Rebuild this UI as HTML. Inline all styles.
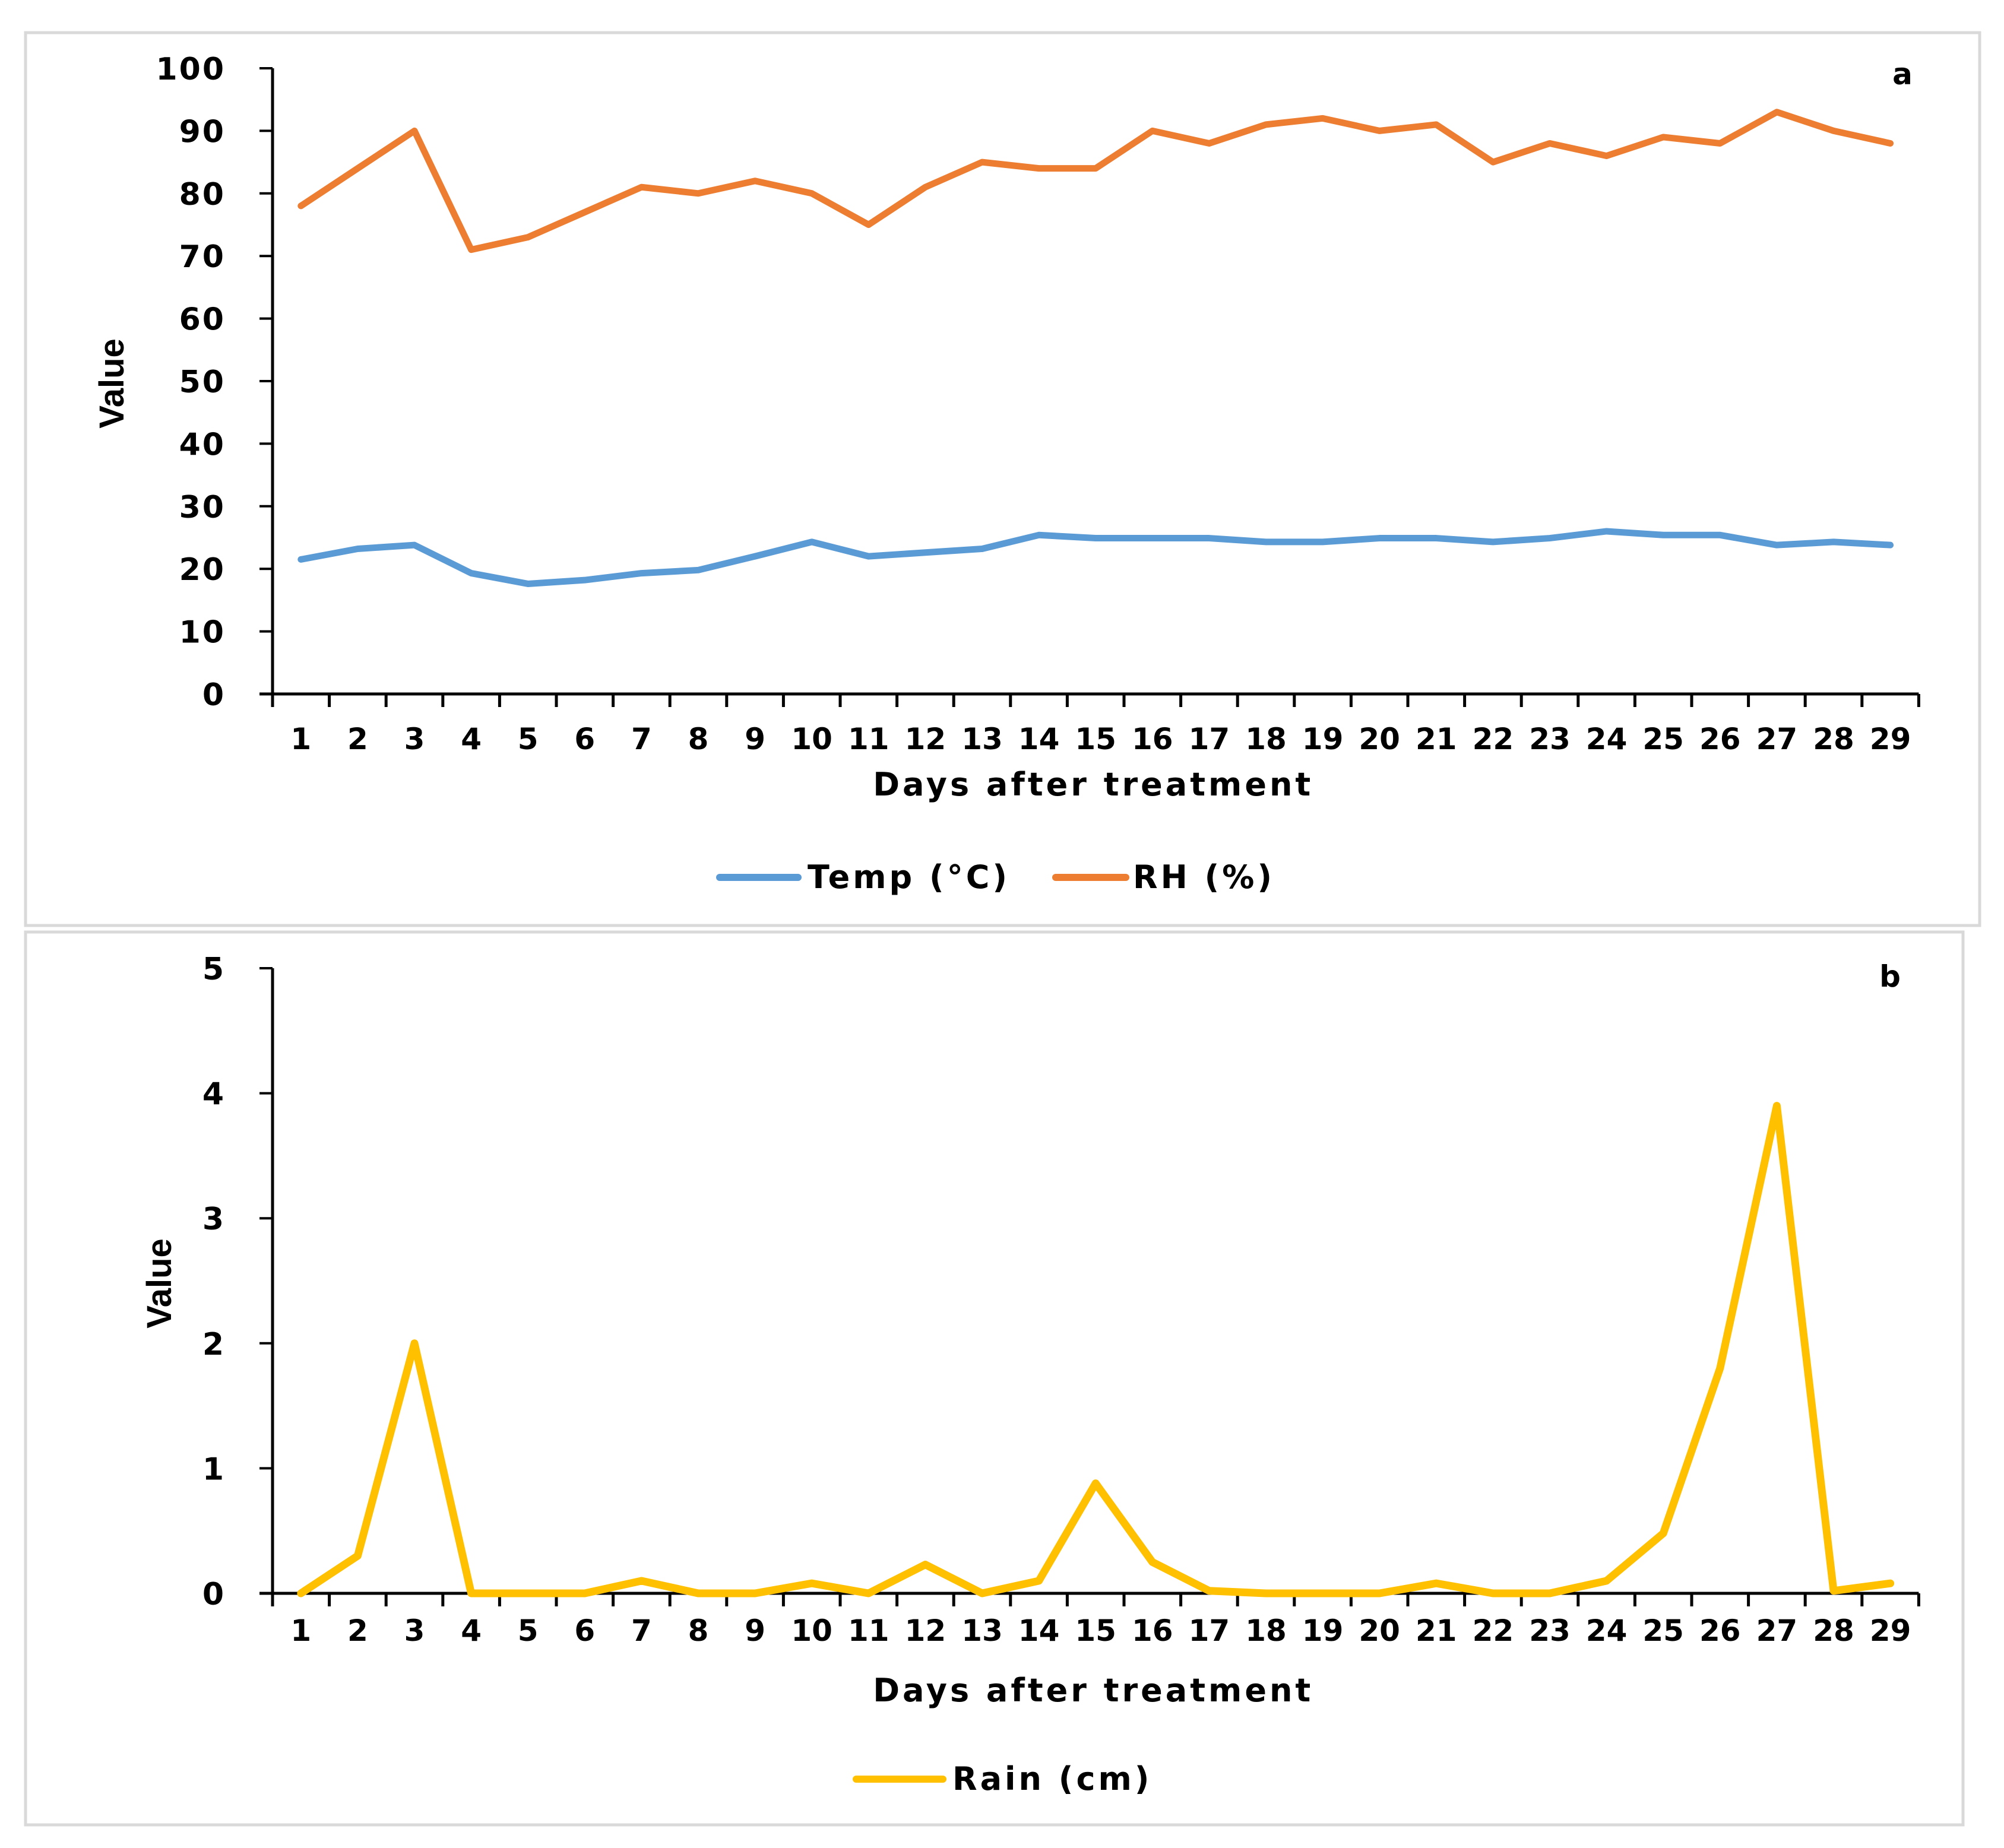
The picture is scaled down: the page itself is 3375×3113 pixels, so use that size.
<!DOCTYPE html>
<html><head><meta charset="utf-8"><style>
html,body{margin:0;padding:0;background:#fff}
svg{display:block}
.t{font-family:"DejaVu Sans","Liberation Sans",sans-serif;font-weight:bold;fill:#000}
.w{letter-spacing:5px}
.v{font-family:"Liberation Sans Narrow","Liberation Sans",sans-serif;font-weight:bold;fill:#000}
</style></head><body>
<svg id="root" width="3375" height="3113" viewBox="0 0 3375 3113" xmlns="http://www.w3.org/2000/svg">
<rect x="43" y="55" width="3291" height="1504" fill="#fff" stroke="#d9d9d9" stroke-width="5"/>
<rect x="43" y="1570" width="3263" height="1504" fill="#fff" stroke="#d9d9d9" stroke-width="5"/>
<g id="ga"></g>
<g id="gb"></g>
</svg>
<script>
const days = [1,2,3,4,5,6,7,8,9,10,11,12,13,14,15,16,17,18,19,20,21,22,23,24,25,26,27,28,29];
const tempValues = [21.5,23.2,23.8,19.3,17.6,18.2,19.3,19.8,22,24.3,22,22.6,23.2,25.4,24.9,24.9,24.9,24.3,24.3,24.9,24.9,24.3,24.9,26,25.4,25.4,23.8,24.3,23.8];
const rhValues = [78,84,90,71,73,77,81,80,82,80,75,81,85,84,84,90,88,91,92,90,91,85,88,86,89,88,93,90,88];
const rainValues = [0,0.3,2,0,0,0,0.1,0,0,0.08,0,0.23,0,0.1,0.88,0.25,0.02,0,0,0,0.08,0,0,0.1,0.48,1.8,3.9,0.02,0.08];
const ticksA = [0,10,20,30,40,50,60,70,80,90,100];
const ticksB = [0,1,2,3,4,5];

const NS='http://www.w3.org/2000/svg';
function mk(parent,tag,attrs,text){const e=document.createElementNS(NS,tag);for(const k in attrs)e.setAttribute(k,attrs[k]);if(text!==undefined)e.textContent=text;parent.appendChild(e);return e;}

function drawChart(g,cfg){
  const x0=459,x1=x0+95.6*days.length;
  const y=v=>cfg.yBot-(v-cfg.min)/(cfg.max-cfg.min)*(cfg.yBot-cfg.yTop);
  const x=i=>x0+(i+0.5)*(x1-x0)/days.length;
  const ya=mk(g,'line',{x1:x0,y1:cfg.yTop,x2:x0,y2:cfg.yBot,stroke:'#000','stroke-width':5});
  
  
  cfg.ticks.forEach(t=>{
    mk(g,'line',{x1:x0-22,y1:y(t),x2:x0,y2:y(t),stroke:'#000','stroke-width':4});
    const tl=mk(g,'text',{x:380,y:y(t)+19,'text-anchor':'end','font-size':52,class:'t','letter-spacing':'3'},t);
    
    
  });
  const xa=mk(g,'line',{x1:x0-22,y1:cfg.yBot,x2:x1,y2:cfg.yBot,stroke:'#000','stroke-width':5});
  
  
  for(let i=0;i<=days.length;i++){const tx=x0+i*(x1-x0)/days.length;mk(g,'line',{x1:tx,y1:cfg.yBot,x2:tx,y2:cfg.yBot+22,stroke:'#000','stroke-width':5});}
  days.forEach((d,i)=>{
    const tl=mk(g,'text',{x:x(i),y:cfg.xLabY,'text-anchor':'middle','font-size':50,class:'t'},d);
    
    
  });
  cfg.series.forEach(s=>{
    const p=mk(g,'polyline',{points:s.vals.map((v,i)=>x(i)+','+y(v)).join(' '),fill:'none',stroke:s.color,'stroke-width':s.w,'stroke-linejoin':'round','stroke-linecap':'round'});
    
    
  });
  const xt=mk(g,'text',{x:(x0+x1)/2-4,y:cfg.xTitleY,'text-anchor':'middle','font-size':54,class:'t w'},'Days after treatment');
  
  
  const yt=mk(g,'text',{x:cfg.vx,y:cfg.vy,'text-anchor':'middle','font-size':58,class:'v',transform:`rotate(-90 ${cfg.vx} ${cfg.vy})`},'Value');
  
  
  const pl=mk(g,'text',{x:cfg.labX,y:cfg.labY,'text-anchor':'middle','font-size':50,class:'t'},cfg.label);
  
  
  cfg.legend.forEach(l=>{
    const ll=mk(g,'line',{x1:l.x1,y1:cfg.legY,x2:l.x2,y2:cfg.legY,stroke:l.color,'stroke-width':12,'stroke-linecap':'round'});
    
    
    const lt=mk(g,'text',{x:l.tx,y:cfg.legY+18,'font-size':54,class:'t w'},l.text);
    
    
  });
}
drawChart(document.getElementById('ga'),{min:0,max:100,yTop:115,yBot:1169,ticks:ticksA,xLabY:1262,xTitleY:1340,vx:208,vy:646,label:'a',labX:3204,labY:142,legY:1478,
  series:[{vals:tempValues,color:'#5b9bd5',w:11,name:'temp-line'},{vals:rhValues,color:'#ed7d31',w:11,name:'rh-line'}],
  legend:[{x1:1212,x2:1344,tx:1360,color:'#5b9bd5',text:'Temp (°C)'},{x1:1778,x2:1896,tx:1908,color:'#ed7d31',text:'RH (%)'}]});
drawChart(document.getElementById('gb'),{min:0,max:5,yTop:1631,yBot:2684,ticks:ticksB,xLabY:2764,xTitleY:2866,vx:288,vy:2162,label:'b',labX:3183,labY:1662,legY:2997,
  series:[{vals:rainValues,color:'#ffc000',w:13,name:'rain-line'}],
  legend:[{x1:1442,x2:1588,tx:1604,color:'#ffc000',text:'Rain (cm)'}]});
</script>
</body></html>
